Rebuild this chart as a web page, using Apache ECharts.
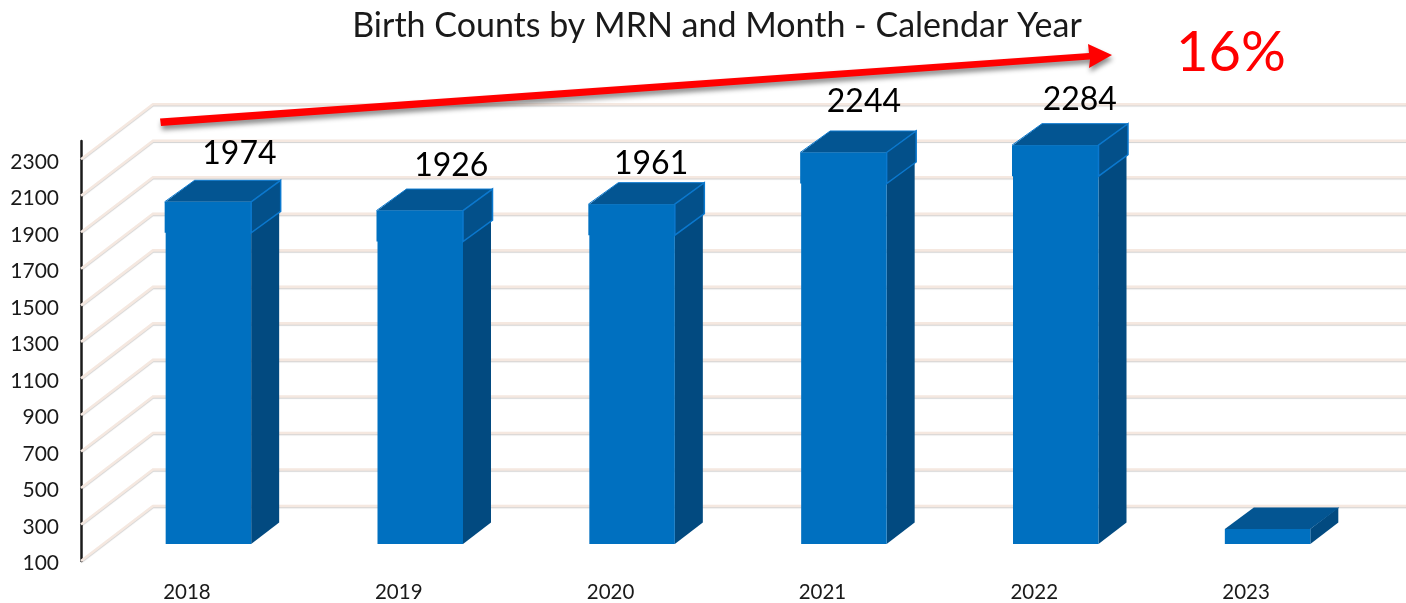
<!DOCTYPE html>
<html>
<head>
<meta charset="utf-8">
<style>html,body{margin:0;padding:0;background:#fff}#c{width:1406px;height:603px}</style>
<script src="https://cdn.jsdelivr.net/npm/echarts@6/dist/echarts.min.js"></script>
</head>
<body>
<div id="c"></div>
<script>
const categories = ['2018','2019','2020','2021','2022','2023'];
const births = [1974,1926,1961,2244,2284,182];
const dataLabels = ['1974','1926','1961','2244','2284',''];
const yTicks = [100,300,500,700,900,1100,1300,1500,1700,1900,2100,2300];
const chartTitle = 'Birth Counts by MRN and Month - Calendar Year';
const growthLabel = '16%';

// layout constants
const FONT = 'Lato, "Open Sans", sans-serif';
const AXIS_MIN = 100, AXIS_MAX = 2400;
const WALL_DX = 72, WALL_DY = -55;
const BAR_SHIFT_X = 21.5, BAR_SHIFT_Y = -17;
const BAR_W = 85.5, DEPTH_X = 28, DEPTH_Y = -21.5, CAP_H = 31;
const labelNudges = [[31,-27],[31,-23],[19,-19],[20,-29],[24,-24],[0,0]];
const FRONT = '#0070C0', SIDE = '#024A80', TOP = '#035592', EDGE = '#0B78CE';

function renderWall(params, api) {
  const p = api.coord([0, api.value(1)]);
  const x0 = params.coordSys.x;
  const y = p[1];
  return {
    type: 'polyline',
    shape: { points: [[x0, y], [x0 + WALL_DX, y + WALL_DY], [1410, y + WALL_DY]] },
    style: { fill: null, stroke: '#F5E8E0', lineWidth: 2.6, shadowColor: 'rgba(0,0,0,0.18)', shadowBlur: 1, shadowOffsetY: 1 }
  };
}

function poly(points, fill, extra) {
  return { type: 'polygon', shape: { points }, style: Object.assign({ fill }, extra || {}) };
}

function renderBar(params, api) {
  const i = params.dataIndex;
  const top = api.coord([api.value(0), api.value(1)]);
  const base = api.coord([api.value(0), AXIS_MIN]);
  const l = top[0] + BAR_SHIFT_X - BAR_W / 2, r = l + BAR_W;
  const yt = top[1] + BAR_SHIFT_Y, yb = base[1] + BAR_SHIFT_Y;
  const dx = DEPTH_X, dy = DEPTH_Y;
  const tall = yb - yt > CAP_H;
  const kids = [
    poly([[r, yt], [r + dx, yt + dy], [r + dx, yb + dy], [r, yb]], SIDE),
    poly([[l, yt], [r, yt], [r, yb], [l, yb]], FRONT),
    poly([[l, yt], [l + dx + 1, yt + dy], [r + dx + 1, yt + dy], [r, yt]], TOP)
  ];
  if (tall) {
    const yc = yt + CAP_H;
    kids.push(
      poly([[l - 1, yt], [r, yt], [r, yc], [l - 1, yc]], FRONT),
      poly([[r, yt], [r + dx + 1.5, yt + dy], [r + dx + 1.5, yc + dy], [r, yc]], '#03508A', { stroke: EDGE, lineWidth: 1.5 }),
      { type: 'polyline', shape: { points: [[l + dx + 1, yt + dy], [r + dx + 1.5, yt + dy]] }, style: { fill: null, stroke: EDGE, lineWidth: 1 } },
      { type: 'polyline', shape: { points: [[l - 1, yt], [l + dx + 1, yt + dy]] }, style: { fill: null, stroke: EDGE, lineWidth: 1 } }
    );
  }
  if (dataLabels[i]) {
    const n = labelNudges[i];
    kids.push({
      type: 'text',
      style: { text: dataLabels[i], x: (l + r) / 2 + n[0], y: yt + dy + n[1], align: 'center', verticalAlign: 'middle', fill: '#000', font: '32px ' + FONT }
    });
  }
  return { type: 'group', children: kids };
}

const chart = echarts.init(document.getElementById('c'), null, { renderer: 'canvas' });
const arrowShadow = { shadowColor: 'rgba(0,0,0,0.45)', shadowBlur: 5, shadowOffsetX: 1, shadowOffsetY: 4 };
chart.setOption({
  animation: false,
  backgroundColor: '#fff',
  title: {
    text: chartTitle, left: 712, top: 4, textAlign: 'center',
    textStyle: { fontFamily: FONT, fontWeight: 'normal', fontSize: 34, color: '#1a1a1a' }
  },
  grid: { left: 81, top: 141, width: 1271, height: 420, containLabel: false },
  xAxis: {
    type: 'category', data: categories,
    axisLine: { show: false }, axisTick: { show: false }, splitLine: { show: false },
    axisLabel: { fontFamily: FONT, fontSize: 20.5, color: '#1a1a1a', margin: 21 }
  },
  yAxis: {
    type: 'value', min: AXIS_MIN, max: AXIS_MAX, interval: 200,
    axisLine: { show: true, lineStyle: { color: '#1a1a1a', width: 2.5 } },
    axisTick: { show: false }, splitLine: { show: false },
    axisLabel: { fontFamily: FONT, fontSize: 21, color: '#1a1a1a', margin: 22, showMaxLabel: false, verticalAlign: 'top', lineHeight: 5, formatter: v => String(v) }
  },
  series: [
    { type: 'custom', name: 'wall', silent: true, z: 1, clip: false, renderItem: renderWall,
      encode: { x: 0, y: 1 }, data: yTicks.map(t => [0, t]) },
    { type: 'custom', name: 'Births', z: 3, clip: false, renderItem: renderBar,
      encode: { x: 0, y: 1 }, data: births.map((v, i) => [i, v]) }
  ],
  graphic: [
    { type: 'polygon', z: 5, shape: { points: [[160,118.5],[1089,53],[1088,44],[1112,55],[1089,68],[1090,59.5],[161,126]] },
      style: Object.assign({ fill: '#FF0000' }, arrowShadow) },
    { type: 'text', z: 6, style: { text: growthLabel, x: 1231, y: 53, align: 'center', verticalAlign: 'middle', fill: '#FF0000', font: '56px ' + FONT } }
  ]
});
</script>
</body>
</html>
